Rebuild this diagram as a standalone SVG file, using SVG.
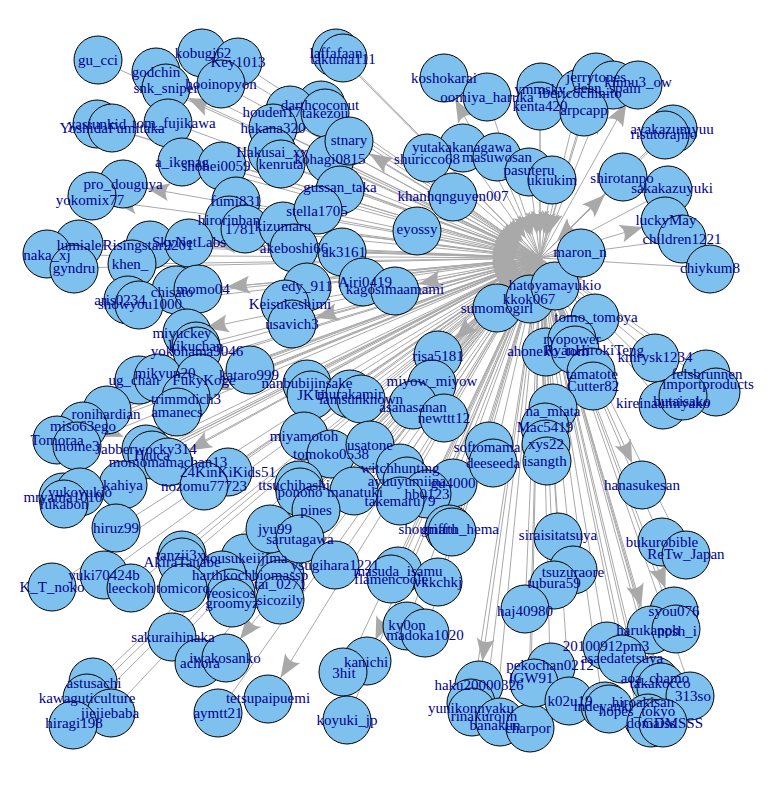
<svg xmlns="http://www.w3.org/2000/svg" width="770" height="785" viewBox="0 0 770 785">
<style>
.e line{stroke:#a9a9a9;stroke-width:1;fill:none}
.i{marker-end:url(#mi)}
.o{marker-end:url(#mo)}
.v{fill:#7ec0ee;stroke:#000;stroke-width:1}
.l{font-family:"Liberation Serif","Times New Roman",serif;font-size:15px;fill:#00008b;text-anchor:middle;dominant-baseline:central}
</style>
<defs>
<marker id="mo" markerUnits="userSpaceOnUse" orient="auto" viewBox="-24 -10 48 20" markerWidth="48" markerHeight="20" refX="24" refY="0" overflow="visible"><path d="M0,0 L-23,-9 Q-16,0 -23,9 Z" fill="#a9a9a9"/></marker>
<marker id="mi" markerUnits="userSpaceOnUse" orient="auto" viewBox="-24 -10 48 20" markerWidth="48" markerHeight="20" refX="24" refY="0" overflow="visible"><path d="M0,0 L-23,-9 Q-16,0 -23,9 Z" fill="#a9a9a9"/></marker>
</defs>
<rect width="770" height="785" fill="#fff"/>
<g id="edges" class="e">
<line class="i" x1="98" y1="60" x2="540" y2="258"/>
<line class="i" x1="156" y1="72" x2="540" y2="258"/>
<line class="i" x1="202" y1="53" x2="540" y2="258"/>
<line class="i" x1="238" y1="62" x2="540" y2="258"/>
<line class="o" x1="540" y1="258" x2="166" y2="88"/>
<line class="i" x1="221" y1="84" x2="540" y2="258"/>
<line class="i" x1="97" y1="124" x2="540" y2="258"/>
<line class="i" x1="112" y1="128" x2="540" y2="258"/>
<line class="i" x1="172" y1="123" x2="540" y2="258"/>
<line class="i" x1="182" y1="162" x2="540" y2="258"/>
<line class="i" x1="218" y1="166" x2="540" y2="258"/>
<line class="o" x1="540" y1="258" x2="123" y2="184"/>
<line class="o" x1="540" y1="258" x2="90" y2="199"/>
<line class="i" x1="336" y1="53" x2="540" y2="258"/>
<line class="i" x1="343" y1="58" x2="540" y2="258"/>
<line class="o" x1="540" y1="258" x2="444" y2="78"/>
<line class="i" x1="487" y1="97" x2="540" y2="258"/>
<line class="i" x1="321" y1="105" x2="540" y2="258"/>
<line class="i" x1="272" y1="112" x2="540" y2="258"/>
<line class="i" x1="325" y1="113" x2="540" y2="258"/>
<line class="i" x1="273" y1="128" x2="540" y2="258"/>
<line class="i" x1="272" y1="152" x2="540" y2="258"/>
<line class="i" x1="281" y1="164" x2="540" y2="258"/>
<line class="i" x1="330" y1="159" x2="540" y2="258"/>
<line class="o" x1="540" y1="258" x2="349" y2="141"/>
<line class="i" x1="340" y1="187" x2="540" y2="258"/>
<line class="i" x1="462" y1="148" x2="540" y2="258"/>
<line class="i" x1="427" y1="159" x2="540" y2="258"/>
<line class="i" x1="497" y1="157" x2="540" y2="258"/>
<line class="i" x1="529" y1="170" x2="540" y2="258"/>
<line class="i" x1="552" y1="180" x2="540" y2="258"/>
<line class="i" x1="540" y1="89" x2="540" y2="258"/>
<line class="i" x1="540" y1="106" x2="540" y2="258"/>
<line class="i" x1="580" y1="93" x2="540" y2="258"/>
<line class="i" x1="596" y1="77" x2="540" y2="258"/>
<line class="o" x1="540" y1="258" x2="607" y2="88"/>
<line class="o" x1="540" y1="258" x2="638" y2="82"/>
<line class="i" x1="584" y1="110" x2="540" y2="258"/>
<line class="i" x1="672" y1="129" x2="540" y2="258"/>
<line class="i" x1="664" y1="134" x2="540" y2="258"/>
<line class="o" x1="540" y1="258" x2="622" y2="178"/>
<line class="i" x1="672" y1="188" x2="540" y2="258"/>
<line class="i" x1="236" y1="201" x2="540" y2="258"/>
<line class="i" x1="229" y1="220" x2="540" y2="258"/>
<line class="i" x1="240" y1="229" x2="540" y2="258"/>
<line class="i" x1="283" y1="226" x2="540" y2="258"/>
<line class="i" x1="317" y1="211" x2="540" y2="258"/>
<line class="i" x1="453" y1="196" x2="540" y2="258"/>
<line class="i" x1="417" y1="229" x2="540" y2="258"/>
<line class="i" x1="294" y1="248" x2="540" y2="258"/>
<line class="i" x1="344" y1="252" x2="540" y2="258"/>
<line class="i" x1="365" y1="282" x2="540" y2="258"/>
<line class="o" x1="540" y1="258" x2="395" y2="289"/>
<line class="i" x1="307" y1="286" x2="540" y2="258"/>
<line class="i" x1="290" y1="304" x2="540" y2="258"/>
<line class="o" x1="540" y1="258" x2="292" y2="324"/>
<line class="i" x1="497" y1="308" x2="540" y2="258"/>
<line class="i" x1="529" y1="299" x2="540" y2="258"/>
<line class="i" x1="555" y1="285" x2="540" y2="258"/>
<line class="o" x1="540" y1="258" x2="438" y2="356"/>
<line class="i" x1="548" y1="351" x2="540" y2="258"/>
<line class="i" x1="432" y1="381" x2="540" y2="258"/>
<line class="i" x1="307" y1="383" x2="540" y2="258"/>
<line class="i" x1="311" y1="395" x2="540" y2="258"/>
<line class="i" x1="350" y1="394" x2="540" y2="258"/>
<line class="i" x1="361" y1="399" x2="540" y2="258"/>
<line class="i" x1="413" y1="407" x2="540" y2="258"/>
<line class="i" x1="444" y1="418" x2="540" y2="258"/>
<line class="i" x1="79" y1="245" x2="540" y2="258"/>
<line class="i" x1="148" y1="245" x2="540" y2="258"/>
<line class="o" x1="540" y1="258" x2="189" y2="242"/>
<line class="i" x1="47" y1="255" x2="540" y2="258"/>
<line class="i" x1="74" y1="268" x2="540" y2="258"/>
<line class="i" x1="130" y1="264" x2="540" y2="258"/>
<line class="i" x1="172" y1="292" x2="540" y2="258"/>
<line class="o" x1="540" y1="258" x2="203" y2="289"/>
<line class="i" x1="120" y1="300" x2="540" y2="258"/>
<line class="i" x1="140" y1="304" x2="540" y2="258"/>
<line class="o" x1="540" y1="258" x2="182" y2="333"/>
<line class="i" x1="196" y1="346" x2="540" y2="258"/>
<line class="i" x1="197" y1="351" x2="540" y2="258"/>
<line class="i" x1="249" y1="375" x2="540" y2="258"/>
<line class="i" x1="134" y1="380" x2="540" y2="258"/>
<line class="i" x1="165" y1="373" x2="540" y2="258"/>
<line class="i" x1="204" y1="380" x2="540" y2="258"/>
<line class="o" x1="540" y1="258" x2="186" y2="399"/>
<line class="i" x1="177" y1="412" x2="540" y2="258"/>
<line class="i" x1="106" y1="414" x2="540" y2="258"/>
<line class="i" x1="83" y1="426" x2="540" y2="258"/>
<line class="i" x1="57" y1="440" x2="540" y2="258"/>
<line class="o" x1="540" y1="258" x2="77" y2="446"/>
<line class="i" x1="146" y1="449" x2="540" y2="258"/>
<line class="i" x1="152" y1="455" x2="540" y2="258"/>
<line class="o" x1="540" y1="258" x2="168" y2="462"/>
<line class="i" x1="228" y1="472" x2="540" y2="258"/>
<line class="i" x1="204" y1="486" x2="540" y2="258"/>
<line class="i" x1="123" y1="485" x2="540" y2="258"/>
<line class="i" x1="63" y1="497" x2="540" y2="258"/>
<line class="i" x1="80" y1="492" x2="540" y2="258"/>
<line class="i" x1="64" y1="504" x2="540" y2="258"/>
<line class="i" x1="116" y1="528" x2="540" y2="258"/>
<line class="i" x1="180" y1="555" x2="540" y2="258"/>
<line class="i" x1="182" y1="562" x2="540" y2="258"/>
<line class="i" x1="245" y1="558" x2="540" y2="258"/>
<line class="i" x1="222" y1="575" x2="540" y2="258"/>
<line class="i" x1="104" y1="575" x2="540" y2="258"/>
<line class="i" x1="131" y1="588" x2="540" y2="258"/>
<line class="i" x1="183" y1="588" x2="540" y2="258"/>
<line class="i" x1="52" y1="587" x2="540" y2="258"/>
<line class="i" x1="280" y1="575" x2="540" y2="258"/>
<line class="i" x1="280" y1="584" x2="540" y2="258"/>
<line class="i" x1="231" y1="593" x2="540" y2="258"/>
<line class="i" x1="280" y1="600" x2="540" y2="258"/>
<line class="i" x1="232" y1="603" x2="540" y2="258"/>
<line class="i" x1="173" y1="637" x2="540" y2="258"/>
<line class="i" x1="200" y1="663" x2="540" y2="258"/>
<line class="o" x1="540" y1="258" x2="225" y2="658"/>
<line class="i" x1="94" y1="683" x2="540" y2="258"/>
<line class="i" x1="87" y1="698" x2="540" y2="258"/>
<line class="i" x1="110" y1="713" x2="540" y2="258"/>
<line class="i" x1="74" y1="723" x2="540" y2="258"/>
<line class="o" x1="540" y1="258" x2="268" y2="698"/>
<line class="i" x1="218" y1="713" x2="540" y2="258"/>
<line class="i" x1="304" y1="436" x2="540" y2="258"/>
<line class="i" x1="331" y1="454" x2="540" y2="258"/>
<line class="i" x1="370" y1="445" x2="540" y2="258"/>
<line class="i" x1="400" y1="468" x2="540" y2="258"/>
<line class="i" x1="407" y1="481" x2="540" y2="258"/>
<line class="i" x1="453" y1="483" x2="540" y2="258"/>
<line class="i" x1="427" y1="494" x2="540" y2="258"/>
<line class="i" x1="400" y1="501" x2="540" y2="258"/>
<line class="i" x1="294" y1="485" x2="540" y2="258"/>
<line class="i" x1="300" y1="492" x2="540" y2="258"/>
<line class="i" x1="355" y1="492" x2="540" y2="258"/>
<line class="i" x1="316" y1="510" x2="540" y2="258"/>
<line class="i" x1="275" y1="529" x2="540" y2="258"/>
<line class="i" x1="300" y1="539" x2="540" y2="258"/>
<line class="i" x1="428" y1="529" x2="540" y2="258"/>
<line class="i" x1="460" y1="529" x2="540" y2="258"/>
<line class="i" x1="335" y1="565" x2="540" y2="258"/>
<line class="i" x1="398" y1="571" x2="540" y2="258"/>
<line class="i" x1="391" y1="579" x2="540" y2="258"/>
<line class="i" x1="438" y1="582" x2="540" y2="258"/>
<line class="i" x1="487" y1="447" x2="540" y2="258"/>
<line class="i" x1="493" y1="463" x2="540" y2="258"/>
<line class="i" x1="580" y1="252" x2="540" y2="258"/>
<line class="o" x1="540" y1="258" x2="666" y2="220"/>
<line class="i" x1="682" y1="239" x2="540" y2="258"/>
<line class="i" x1="710" y1="268" x2="540" y2="258"/>
<line class="i" x1="596" y1="317" x2="540" y2="258"/>
<line class="i" x1="572" y1="339" x2="540" y2="258"/>
<line class="i" x1="594" y1="350" x2="540" y2="258"/>
<line class="i" x1="655" y1="357" x2="540" y2="258"/>
<line class="i" x1="592" y1="374" x2="540" y2="258"/>
<line class="i" x1="593" y1="386" x2="540" y2="258"/>
<line class="i" x1="707" y1="374" x2="540" y2="258"/>
<line class="i" x1="708" y1="384" x2="540" y2="258"/>
<line class="i" x1="663" y1="404" x2="540" y2="258"/>
<line class="i" x1="682" y1="399" x2="540" y2="258"/>
<line class="i" x1="553" y1="411" x2="540" y2="258"/>
<line class="i" x1="545" y1="427" x2="540" y2="258"/>
<line class="i" x1="546" y1="444" x2="540" y2="258"/>
<line class="i" x1="545" y1="461" x2="540" y2="258"/>
<line class="o" x1="540" y1="258" x2="642" y2="485"/>
<line class="i" x1="558" y1="535" x2="540" y2="258"/>
<line class="i" x1="662" y1="542" x2="540" y2="258"/>
<line class="i" x1="686" y1="554" x2="540" y2="258"/>
<line class="i" x1="573" y1="572" x2="540" y2="258"/>
<line class="o" x1="540" y1="258" x2="554" y2="583"/>
<line class="o" x1="540" y1="258" x2="366" y2="662"/>
<line class="i" x1="344" y1="673" x2="540" y2="258"/>
<line class="i" x1="347" y1="720" x2="540" y2="258"/>
<line class="i" x1="407" y1="625" x2="540" y2="258"/>
<line class="i" x1="425" y1="635" x2="540" y2="258"/>
<line class="o" x1="540" y1="258" x2="479" y2="685"/>
<line class="i" x1="471" y1="708" x2="540" y2="258"/>
<line class="i" x1="484" y1="716" x2="540" y2="258"/>
<line class="i" x1="495" y1="725" x2="540" y2="258"/>
<line class="i" x1="528" y1="728" x2="540" y2="258"/>
<line class="i" x1="550" y1="665" x2="540" y2="258"/>
<line class="i" x1="531" y1="678" x2="540" y2="258"/>
<line class="i" x1="525" y1="611" x2="540" y2="258"/>
<line class="o" x1="540" y1="258" x2="674" y2="611"/>
<line class="o" x1="540" y1="258" x2="648" y2="630"/>
<line class="i" x1="677" y1="631" x2="540" y2="258"/>
<line class="i" x1="606" y1="646" x2="540" y2="258"/>
<line class="i" x1="622" y1="658" x2="540" y2="258"/>
<line class="i" x1="655" y1="678" x2="540" y2="258"/>
<line class="i" x1="660" y1="683" x2="540" y2="258"/>
<line class="i" x1="693" y1="696" x2="540" y2="258"/>
<line class="i" x1="570" y1="701" x2="540" y2="258"/>
<line class="i" x1="643" y1="702" x2="540" y2="258"/>
<line class="i" x1="603" y1="706" x2="540" y2="258"/>
<line class="i" x1="637" y1="711" x2="540" y2="258"/>
<line class="i" x1="651" y1="723" x2="540" y2="258"/>
<line class="i" x1="673" y1="723" x2="540" y2="258"/>
</g>
<g id="nodes">
<g id="n-gu_cci"><circle class="v" cx="98" cy="60" r="24"/></g>
<g id="n-godchin"><circle class="v" cx="156" cy="72" r="24"/></g>
<g id="n-kobugi62"><circle class="v" cx="202" cy="53" r="24"/></g>
<g id="n-Key1013"><circle class="v" cx="238" cy="62" r="24"/></g>
<g id="n-snk_sniper"><circle class="v" cx="166" cy="88" r="24"/></g>
<g id="n-hooinopyon"><circle class="v" cx="221" cy="84" r="24"/></g>
<g id="n-yasiunkid"><circle class="v" cx="97" cy="124" r="24"/></g>
<g id="n-YoshidaFumitaka"><circle class="v" cx="112" cy="128" r="24"/></g>
<g id="n-tom_fujikawa"><circle class="v" cx="168" cy="123" r="24"/></g>
<g id="n-a_ikenag"><circle class="v" cx="182" cy="162" r="24"/></g>
<g id="n-shohei0059"><circle class="v" cx="222" cy="166" r="24"/></g>
<g id="n-pro_douguya"><circle class="v" cx="123" cy="184" r="24"/></g>
<g id="n-yokomix77"><circle class="v" cx="92" cy="196" r="24"/></g>
<g id="n-laffafaan"><circle class="v" cx="336" cy="53" r="24"/></g>
<g id="n-takuma111"><circle class="v" cx="343" cy="58" r="24"/></g>
<g id="n-koshokarai"><circle class="v" cx="444" cy="78" r="24"/></g>
<g id="n-oomiya_haruka"><circle class="v" cx="487" cy="97" r="24"/></g>
<g id="n-darthcoconut"><circle class="v" cx="321" cy="105" r="24"/></g>
<g id="n-houden17"><circle class="v" cx="290" cy="110" r="24"/></g>
<g id="n-takezou"><circle class="v" cx="325" cy="113" r="24"/></g>
<g id="n-hakana320"><circle class="v" cx="273" cy="128" r="24"/></g>
<g id="n-Hakusai_xx"><circle class="v" cx="272" cy="152" r="24"/></g>
<g id="n-kenruta"><circle class="v" cx="281" cy="164" r="24"/></g>
<g id="n-kohagi0815"><circle class="v" cx="330" cy="159" r="24"/></g>
<g id="n-stnary"><circle class="v" cx="349" cy="141" r="24"/></g>
<g id="n-gussan_taka"><circle class="v" cx="340" cy="190" r="24"/></g>
<g id="n-yutakakanagawa"><circle class="v" cx="463" cy="148" r="24"/></g>
<g id="n-shuricco68"><circle class="v" cx="427" cy="158" r="24"/></g>
<g id="n-masuwosan"><circle class="v" cx="497" cy="157" r="24"/></g>
<g id="n-pasuteru"><circle class="v" cx="529" cy="172" r="24"/></g>
<g id="n-ukiukim"><circle class="v" cx="552" cy="180" r="24"/></g>
<g id="n-ymmsky"><circle class="v" cx="541" cy="87" r="24"/></g>
<g id="n-kenta420"><circle class="v" cx="540" cy="106" r="24"/></g>
<g id="n-ibericochinito"><circle class="v" cx="580" cy="93" r="24"/></g>
<g id="n-jerrytones"><circle class="v" cx="596" cy="77" r="24"/></g>
<g id="n-dean_spain"><circle class="v" cx="613" cy="85" r="24"/></g>
<g id="n-kinnu3_ow"><circle class="v" cx="638" cy="85" r="24"/></g>
<g id="n-arpcapp"><circle class="v" cx="584" cy="112" r="24"/></g>
<g id="n-ayakazumyuu"><circle class="v" cx="673" cy="129" r="24"/></g>
<g id="n-risutorajiro"><circle class="v" cx="665" cy="135" r="24"/></g>
<g id="n-shirotanpo"><circle class="v" cx="623" cy="177" r="24"/></g>
<g id="n-sakakazuyuki"><circle class="v" cx="668" cy="190" r="24"/></g>
<g id="n-fumi831"><circle class="v" cx="236" cy="201" r="24"/></g>
<g id="n-hirorinban"><circle class="v" cx="229" cy="220" r="24"/></g>
<g id="n-1781"><circle class="v" cx="245" cy="229" r="24"/></g>
<g id="n-kizumaru"><circle class="v" cx="283" cy="226" r="24"/></g>
<g id="n-stella1705"><circle class="v" cx="318" cy="210" r="24"/></g>
<g id="n-khanhqnguyen007"><circle class="v" cx="453" cy="197" r="24"/></g>
<g id="n-eyossy"><circle class="v" cx="417" cy="231" r="24"/></g>
<g id="n-akeboshi66"><circle class="v" cx="294" cy="248" r="24"/></g>
<g id="n-ak3161"><circle class="v" cx="342" cy="252" r="24"/></g>
<g id="n-Airi0419"><circle class="v" cx="363" cy="282" r="24"/></g>
<g id="n-kagosimaamami"><circle class="v" cx="395" cy="291" r="24"/></g>
<g id="n-edy_911"><circle class="v" cx="307" cy="287" r="24"/></g>
<g id="n-Keisukeshimi"><circle class="v" cx="285" cy="304" r="24"/></g>
<g id="n-usavich3"><circle class="v" cx="292" cy="324" r="24"/></g>
<g id="n-sumomogirl"><circle class="v" cx="497" cy="308" r="24"/></g>
<g id="n-kkok067"><circle class="v" cx="530" cy="299" r="24"/></g>
<g id="n-hatoyamayukio"><circle class="v" cx="555" cy="286" r="24"/></g>
<g id="n-risa5181"><circle class="v" cx="438" cy="355" r="24"/></g>
<g id="n-ahoneko_tom"><circle class="v" cx="546" cy="352" r="24"/></g>
<g id="n-miyow_miyow"><circle class="v" cx="432" cy="384" r="24"/></g>
<g id="n-nanbubijinsake"><circle class="v" cx="307" cy="384" r="24"/></g>
<g id="n-JKU"><circle class="v" cx="311" cy="395" r="24"/></g>
<g id="n-murakamir"><circle class="v" cx="350" cy="394" r="24"/></g>
<g id="n-iamsunknown"><circle class="v" cx="361" cy="399" r="24"/></g>
<g id="n-asanasanan"><circle class="v" cx="413" cy="405" r="24"/></g>
<g id="n-newttt12"><circle class="v" cx="444" cy="418" r="24"/></g>
<g id="n-lumiale"><circle class="v" cx="79" cy="244" r="24"/></g>
<g id="n-Risingstar9201"><circle class="v" cx="150" cy="245" r="24"/></g>
<g id="n-SkyNetLabs"><circle class="v" cx="189" cy="243" r="24"/></g>
<g id="n-naka_xj"><circle class="v" cx="47" cy="254" r="24"/></g>
<g id="n-gyndru"><circle class="v" cx="74" cy="269" r="24"/></g>
<g id="n-khen_"><circle class="v" cx="132" cy="264" r="24"/></g>
<g id="n-chisato"><circle class="v" cx="176" cy="290" r="24"/></g>
<g id="n-momo04"><circle class="v" cx="198" cy="289" r="24"/></g>
<g id="n-aris0234"><circle class="v" cx="128" cy="300" r="24"/></g>
<g id="n-showyou1000"><circle class="v" cx="139" cy="305" r="24"/></g>
<g id="n-miyuckey"><circle class="v" cx="187" cy="333" r="24"/></g>
<g id="n-kikuchan"><circle class="v" cx="196" cy="346" r="24"/></g>
<g id="n-yokohama9046"><circle class="v" cx="197" cy="351" r="24"/></g>
<g id="n-kataro999"><circle class="v" cx="250" cy="370" r="24"/></g>
<g id="n-ug_chan"><circle class="v" cx="139" cy="380" r="24"/></g>
<g id="n-mikyun20"><circle class="v" cx="158" cy="378" r="24"/></g>
<g id="n-FukyKoge"><circle class="v" cx="200" cy="378" r="24"/></g>
<g id="n-trimmdich3"><circle class="v" cx="186" cy="397" r="24"/></g>
<g id="n-amanecs"><circle class="v" cx="177" cy="412" r="24"/></g>
<g id="n-ronihardian"><circle class="v" cx="107" cy="410" r="24"/></g>
<g id="n-miso63ego"><circle class="v" cx="83" cy="426" r="24"/></g>
<g id="n-Tomoraa"><circle class="v" cx="57" cy="440" r="24"/></g>
<g id="n-mome3"><circle class="v" cx="77" cy="446" r="24"/></g>
<g id="n-Jabberwocky314"><circle class="v" cx="146" cy="449" r="24"/></g>
<g id="n-Hiuca"><circle class="v" cx="152" cy="455" r="24"/></g>
<g id="n-momomamachan13"><circle class="v" cx="168" cy="462" r="24"/></g>
<g id="n-24KinKiKids51"><circle class="v" cx="228" cy="472" r="24"/></g>
<g id="n-nozomu77723"><circle class="v" cx="204" cy="486" r="24"/></g>
<g id="n-kahiya"><circle class="v" cx="123" cy="485" r="24"/></g>
<g id="n-mryama1010"><circle class="v" cx="63" cy="497" r="24"/></g>
<g id="n-yukoyukio"><circle class="v" cx="80" cy="492" r="24"/></g>
<g id="n-fukabon"><circle class="v" cx="64" cy="504" r="24"/></g>
<g id="n-hiruz99"><circle class="v" cx="116" cy="528" r="24"/></g>
<g id="n-tanzii3x"><circle class="v" cx="182" cy="555" r="24"/></g>
<g id="n-AkiraTanabe"><circle class="v" cx="182" cy="562" r="24"/></g>
<g id="n-kousukeiijima"><circle class="v" cx="245" cy="558" r="24"/></g>
<g id="n-harthkoch"><circle class="v" cx="222" cy="575" r="24"/></g>
<g id="n-yuki70424b"><circle class="v" cx="104" cy="575" r="24"/></g>
<g id="n-leeckoh"><circle class="v" cx="131" cy="588" r="24"/></g>
<g id="n-tomicoro"><circle class="v" cx="183" cy="588" r="24"/></g>
<g id="n-K_T_noko"><circle class="v" cx="52" cy="587" r="24"/></g>
<g id="n-biomassp"><circle class="v" cx="280" cy="575" r="24"/></g>
<g id="n-tai_0271"><circle class="v" cx="280" cy="584" r="24"/></g>
<g id="n-reosicos"><circle class="v" cx="231" cy="593" r="24"/></g>
<g id="n-sicozily"><circle class="v" cx="280" cy="600" r="24"/></g>
<g id="n-groomyz"><circle class="v" cx="232" cy="603" r="24"/></g>
<g id="n-sakuraihinaka"><circle class="v" cx="172" cy="637" r="24"/></g>
<g id="n-achora"><circle class="v" cx="199" cy="663" r="24"/></g>
<g id="n-iwakosanko"><circle class="v" cx="226" cy="658" r="24"/></g>
<g id="n-astusachi"><circle class="v" cx="93" cy="682" r="24"/></g>
<g id="n-kawaguticulture"><circle class="v" cx="87" cy="698" r="24"/></g>
<g id="n-jiejiebaba"><circle class="v" cx="111" cy="713" r="24"/></g>
<g id="n-hiragi198"><circle class="v" cx="73" cy="725" r="24"/></g>
<g id="n-tetsupaipuemi"><circle class="v" cx="268" cy="699" r="24"/></g>
<g id="n-aymtt21"><circle class="v" cx="218" cy="713" r="24"/></g>
<g id="n-miyamotoh"><circle class="v" cx="304" cy="436" r="24"/></g>
<g id="n-tomoko0538"><circle class="v" cx="331" cy="454" r="24"/></g>
<g id="n-usatone"><circle class="v" cx="370" cy="445" r="24"/></g>
<g id="n-witchhunting"><circle class="v" cx="400" cy="468" r="24"/></g>
<g id="n-ayuuyumiina"><circle class="v" cx="407" cy="481" r="24"/></g>
<g id="n-gu4000"><circle class="v" cx="453" cy="483" r="24"/></g>
<g id="n-hb0123"><circle class="v" cx="427" cy="494" r="24"/></g>
<g id="n-takemaru79"><circle class="v" cx="400" cy="501" r="24"/></g>
<g id="n-ttsuchihashi"><circle class="v" cx="299" cy="485" r="24"/></g>
<g id="n-ponono"><circle class="v" cx="300" cy="492" r="24"/></g>
<g id="n-manatuki"><circle class="v" cx="354" cy="491" r="24"/></g>
<g id="n-pines"><circle class="v" cx="316" cy="510" r="24"/></g>
<g id="n-jyu99"><circle class="v" cx="270" cy="529" r="24"/></g>
<g id="n-sarutagawa"><circle class="v" cx="300" cy="539" r="24"/></g>
<g id="n-shoumaru"><circle class="v" cx="449" cy="529" r="24"/></g>
<g id="n-griffth_hema"><circle class="v" cx="452" cy="532" r="24"/></g>
<g id="n-ysugihara1221"><circle class="v" cx="335" cy="565" r="24"/></g>
<g id="n-masuda_isamu"><circle class="v" cx="398" cy="571" r="24"/></g>
<g id="n-flamencoole"><circle class="v" cx="391" cy="579" r="24"/></g>
<g id="n-vkkchkj"><circle class="v" cx="438" cy="582" r="24"/></g>
<g id="n-softomama"><circle class="v" cx="489" cy="446" r="24"/></g>
<g id="n-deeseeda"><circle class="v" cx="493" cy="463" r="24"/></g>
<g id="n-maron_n"><circle class="v" cx="581" cy="253" r="24"/></g>
<g id="n-luckyMay"><circle class="v" cx="665" cy="221" r="24"/></g>
<g id="n-children1221"><circle class="v" cx="682" cy="239" r="24"/></g>
<g id="n-chiykum8"><circle class="v" cx="710" cy="269" r="24"/></g>
<g id="n-tomo_tomoya"><circle class="v" cx="595" cy="318" r="24"/></g>
<g id="n-ryopower"><circle class="v" cx="572" cy="340" r="24"/></g>
<g id="n-RyanHirokiTeng"><circle class="v" cx="575" cy="350" r="24"/></g>
<g id="n-kmrysk1234"><circle class="v" cx="655" cy="358" r="24"/></g>
<g id="n-tamatote"><circle class="v" cx="591" cy="372" r="24"/></g>
<g id="n-Cutter82"><circle class="v" cx="593" cy="386" r="24"/></g>
<g id="n-felsbrunnen"><circle class="v" cx="706" cy="374" r="24"/></g>
<g id="n-importproducts"><circle class="v" cx="716" cy="392" r="24"/></g>
<g id="n-kireinaumiyako"><circle class="v" cx="663" cy="405" r="24"/></g>
<g id="n-butaisako"><circle class="v" cx="683" cy="396" r="24"/></g>
<g id="n-na_miata"><circle class="v" cx="553" cy="408" r="24"/></g>
<g id="n-Mac5419"><circle class="v" cx="545" cy="427" r="24"/></g>
<g id="n-xys22"><circle class="v" cx="546" cy="444" r="24"/></g>
<g id="n-isangth"><circle class="v" cx="547" cy="461" r="24"/></g>
<g id="n-hanasukesan"><circle class="v" cx="642" cy="485" r="24"/></g>
<g id="n-siraisitatsuya"><circle class="v" cx="558" cy="537" r="24"/></g>
<g id="n-bukurobible"><circle class="v" cx="662" cy="542" r="24"/></g>
<g id="n-ReTw_Japan"><circle class="v" cx="686" cy="555" r="24"/></g>
<g id="n-tsuzuraore"><circle class="v" cx="573" cy="570" r="24"/></g>
<g id="n-tubura59"><circle class="v" cx="554" cy="585" r="24"/></g>
<g id="n-kanichi"><circle class="v" cx="367" cy="661" r="24"/></g>
<g id="n-3hit"><circle class="v" cx="343" cy="672" r="24"/></g>
<g id="n-koyuki_jp"><circle class="v" cx="347" cy="720" r="24"/></g>
<g id="n-ky0on"><circle class="v" cx="407" cy="626" r="24"/></g>
<g id="n-madoka1020"><circle class="v" cx="425" cy="633" r="24"/></g>
<g id="n-haku20000326"><circle class="v" cx="479" cy="685" r="24"/></g>
<g id="n-yunikonnyaku"><circle class="v" cx="471" cy="703" r="24"/></g>
<g id="n-rinakurojin"><circle class="v" cx="472" cy="712" r="24"/></g>
<g id="n-banakun"><circle class="v" cx="500" cy="722" r="24"/></g>
<g id="n-charpor"><circle class="v" cx="530" cy="728" r="24"/></g>
<g id="n-pekochan0212"><circle class="v" cx="551" cy="667" r="24"/></g>
<g id="n-IGW91"><circle class="v" cx="534" cy="683" r="24"/></g>
<g id="n-haj40980"><circle class="v" cx="525" cy="609" r="24"/></g>
<g id="n-syou076"><circle class="v" cx="674" cy="611" r="24"/></g>
<g id="n-harukapph"><circle class="v" cx="651" cy="630" r="24"/></g>
<g id="n-nosh_i"><circle class="v" cx="676" cy="629" r="24"/></g>
<g id="n-20100912pm3"><circle class="v" cx="607" cy="646" r="24"/></g>
<g id="n-asaedatetsuya"><circle class="v" cx="622" cy="659" r="24"/></g>
<g id="n-aoa_chamo"><circle class="v" cx="655" cy="681" r="24"/></g>
<g id="n-takakocco"><circle class="v" cx="661" cy="687" r="24"/></g>
<g id="n-313so"><circle class="v" cx="690" cy="696" r="24"/></g>
<g id="n-k02u19"><circle class="v" cx="569" cy="701" r="24"/></g>
<g id="n-hiroakisan"><circle class="v" cx="648" cy="718" r="24"/></g>
<g id="n-indeyanki"><circle class="v" cx="605" cy="706" r="24"/></g>
<g id="n-hopes_tokyo"><circle class="v" cx="609" cy="709" r="24"/></g>
<g id="n-domaiss"><circle class="v" cx="651" cy="723" r="24"/></g>
<g id="n-GDMSSS"><circle class="v" cx="663" cy="723" r="24"/></g>
</g>
<g id="labels" class="l">
<text class="l" x="98" y="60">gu_cci</text>
<text class="l" x="156" y="72">godchin</text>
<text class="l" x="203" y="53">kobugi62</text>
<text class="l" x="238" y="62">Key1013</text>
<text class="l" x="166" y="88">snk_sniper</text>
<text class="l" x="221" y="84">hooinopyon</text>
<text class="l" x="97" y="124">yasiunkid</text>
<text class="l" x="112" y="128">YoshidaFumitaka</text>
<text class="l" x="174" y="123">tom_fujikawa</text>
<text class="l" x="182" y="162">a_ikenag</text>
<text class="l" x="216" y="166">shohei0059</text>
<text class="l" x="123" y="184">pro_douguya</text>
<text class="l" x="90" y="200">yokomix77</text>
<text class="l" x="336" y="53">laffafaan</text>
<text class="l" x="343" y="59">takuma111</text>
<text class="l" x="444" y="78">koshokarai</text>
<text class="l" x="487" y="97">oomiya_haruka</text>
<text class="l" x="320" y="105">darthcoconut</text>
<text class="l" x="272" y="112">houden17</text>
<text class="l" x="325" y="113">takezou</text>
<text class="l" x="273" y="128">hakana320</text>
<text class="l" x="272" y="152">Hakusai_xx</text>
<text class="l" x="281" y="164">kenruta</text>
<text class="l" x="330" y="159">kohagi0815</text>
<text class="l" x="349" y="140">stnary</text>
<text class="l" x="340" y="187">gussan_taka</text>
<text class="l" x="462" y="147">yutakakanagawa</text>
<text class="l" x="427" y="159">shuricco68</text>
<text class="l" x="497" y="157">masuwosan</text>
<text class="l" x="529" y="170">pasuteru</text>
<text class="l" x="552" y="180">ukiukim</text>
<text class="l" x="540" y="89">ymmsky</text>
<text class="l" x="540" y="106">kenta420</text>
<text class="l" x="580" y="93">ibericochinito</text>
<text class="l" x="596" y="77">jerrytones</text>
<text class="l" x="607" y="88">dean_spain</text>
<text class="l" x="638" y="82">kinnu3_ow</text>
<text class="l" x="584" y="110">arpcapp</text>
<text class="l" x="672" y="129">ayakazumyuu</text>
<text class="l" x="664" y="134">risutorajiro</text>
<text class="l" x="622" y="178">shirotanpo</text>
<text class="l" x="672" y="188">sakakazuyuki</text>
<text class="l" x="236" y="201">fumi831</text>
<text class="l" x="229" y="220">hirorinban</text>
<text class="l" x="240" y="229">1781</text>
<text class="l" x="283" y="226">kizumaru</text>
<text class="l" x="317" y="211">stella1705</text>
<text class="l" x="453" y="196">khanhqnguyen007</text>
<text class="l" x="417" y="229">eyossy</text>
<text class="l" x="294" y="248">akeboshi66</text>
<text class="l" x="344" y="252">ak3161</text>
<text class="l" x="365" y="282">Airi0419</text>
<text class="l" x="395" y="289">kagosimaamami</text>
<text class="l" x="307" y="286">edy_911</text>
<text class="l" x="290" y="304">Keisukeshimi</text>
<text class="l" x="292" y="324">usavich3</text>
<text class="l" x="497" y="308">sumomogirl</text>
<text class="l" x="529" y="299">kkok067</text>
<text class="l" x="555" y="285">hatoyamayukio</text>
<text class="l" x="438" y="356">risa5181</text>
<text class="l" x="548" y="351">ahoneko_tom</text>
<text class="l" x="432" y="381">miyow_miyow</text>
<text class="l" x="307" y="383">nanbubijinsake</text>
<text class="l" x="311" y="395">JKU</text>
<text class="l" x="350" y="394">murakamir</text>
<text class="l" x="361" y="399">iamsunknown</text>
<text class="l" x="413" y="407">asanasanan</text>
<text class="l" x="444" y="418">newttt12</text>
<text class="l" x="79" y="245">lumiale</text>
<text class="l" x="148" y="245">Risingstar9201</text>
<text class="l" x="189" y="242">SkyNetLabs</text>
<text class="l" x="47" y="255">naka_xj</text>
<text class="l" x="74" y="268">gyndru</text>
<text class="l" x="130" y="264">khen_</text>
<text class="l" x="172" y="292">chisato</text>
<text class="l" x="203" y="289">momo04</text>
<text class="l" x="120" y="300">aris0234</text>
<text class="l" x="140" y="304">showyou1000</text>
<text class="l" x="182" y="333">miyuckey</text>
<text class="l" x="196" y="346">kikuchan</text>
<text class="l" x="197" y="351">yokohama9046</text>
<text class="l" x="249" y="375">kataro999</text>
<text class="l" x="134" y="380">ug_chan</text>
<text class="l" x="165" y="373">mikyun20</text>
<text class="l" x="204" y="380">FukyKoge</text>
<text class="l" x="186" y="399">trimmdich3</text>
<text class="l" x="177" y="412">amanecs</text>
<text class="l" x="106" y="414">ronihardian</text>
<text class="l" x="83" y="426">miso63ego</text>
<text class="l" x="57" y="440">Tomoraa</text>
<text class="l" x="77" y="446">mome3</text>
<text class="l" x="146" y="449">Jabberwocky314</text>
<text class="l" x="152" y="455">Hiuca</text>
<text class="l" x="168" y="462">momomamachan13</text>
<text class="l" x="228" y="472">24KinKiKids51</text>
<text class="l" x="204" y="486">nozomu77723</text>
<text class="l" x="123" y="485">kahiya</text>
<text class="l" x="63" y="497">mryama1010</text>
<text class="l" x="80" y="492">yukoyukio</text>
<text class="l" x="64" y="504">fukabon</text>
<text class="l" x="116" y="528">hiruz99</text>
<text class="l" x="180" y="555">tanzii3x</text>
<text class="l" x="182" y="562">AkiraTanabe</text>
<text class="l" x="245" y="558">kousukeiijima</text>
<text class="l" x="222" y="575">harthkoch</text>
<text class="l" x="104" y="575">yuki70424b</text>
<text class="l" x="131" y="588">leeckoh</text>
<text class="l" x="183" y="588">tomicoro</text>
<text class="l" x="52" y="587">K_T_noko</text>
<text class="l" x="280" y="575">biomassp</text>
<text class="l" x="280" y="584">tai_0271</text>
<text class="l" x="231" y="593">reosicos</text>
<text class="l" x="280" y="600">sicozily</text>
<text class="l" x="232" y="603">groomyz</text>
<text class="l" x="173" y="637">sakuraihinaka</text>
<text class="l" x="200" y="663">achora</text>
<text class="l" x="225" y="658">iwakosanko</text>
<text class="l" x="94" y="683">astusachi</text>
<text class="l" x="87" y="698">kawaguticulture</text>
<text class="l" x="110" y="713">jiejiebaba</text>
<text class="l" x="74" y="723">hiragi198</text>
<text class="l" x="268" y="698">tetsupaipuemi</text>
<text class="l" x="218" y="713">aymtt21</text>
<text class="l" x="304" y="436">miyamotoh</text>
<text class="l" x="331" y="454">tomoko0538</text>
<text class="l" x="370" y="445">usatone</text>
<text class="l" x="400" y="468">witchhunting</text>
<text class="l" x="407" y="481">ayuuyumiina</text>
<text class="l" x="453" y="483">gu4000</text>
<text class="l" x="427" y="494">hb0123</text>
<text class="l" x="400" y="501">takemaru79</text>
<text class="l" x="294" y="485">ttsuchihashi</text>
<text class="l" x="300" y="492">ponono</text>
<text class="l" x="355" y="492">manatuki</text>
<text class="l" x="316" y="510">pines</text>
<text class="l" x="275" y="529">jyu99</text>
<text class="l" x="300" y="539">sarutagawa</text>
<text class="l" x="428" y="529">shoumaru</text>
<text class="l" x="460" y="529">griffth_hema</text>
<text class="l" x="335" y="565">ysugihara1221</text>
<text class="l" x="398" y="571">masuda_isamu</text>
<text class="l" x="391" y="579">flamencoole</text>
<text class="l" x="438" y="582">vkkchkj</text>
<text class="l" x="487" y="447">softomama</text>
<text class="l" x="493" y="463">deeseeda</text>
<text class="l" x="580" y="252">maron_n</text>
<text class="l" x="666" y="220">luckyMay</text>
<text class="l" x="682" y="239">children1221</text>
<text class="l" x="710" y="268">chiykum8</text>
<text class="l" x="596" y="317">tomo_tomoya</text>
<text class="l" x="572" y="339">ryopower</text>
<text class="l" x="594" y="350">RyanHirokiTeng</text>
<text class="l" x="655" y="357">kmrysk1234</text>
<text class="l" x="592" y="374">tamatote</text>
<text class="l" x="593" y="386">Cutter82</text>
<text class="l" x="707" y="374">felsbrunnen</text>
<text class="l" x="708" y="384">importproducts</text>
<text class="l" x="663" y="403">kireinaumiyako</text>
<text class="l" x="682" y="401">butaisako</text>
<text class="l" x="553" y="411">na_miata</text>
<text class="l" x="545" y="427">Mac5419</text>
<text class="l" x="546" y="444">xys22</text>
<text class="l" x="545" y="461">isangth</text>
<text class="l" x="642" y="485">hanasukesan</text>
<text class="l" x="558" y="535">siraisitatsuya</text>
<text class="l" x="662" y="542">bukurobible</text>
<text class="l" x="686" y="554">ReTw_Japan</text>
<text class="l" x="573" y="572">tsuzuraore</text>
<text class="l" x="554" y="583">tubura59</text>
<text class="l" x="366" y="662">kanichi</text>
<text class="l" x="344" y="673">3hit</text>
<text class="l" x="347" y="720">koyuki_jp</text>
<text class="l" x="407" y="625">ky0on</text>
<text class="l" x="425" y="635">madoka1020</text>
<text class="l" x="479" y="685">haku20000326</text>
<text class="l" x="471" y="708">yunikonnyaku</text>
<text class="l" x="484" y="716">rinakurojin</text>
<text class="l" x="495" y="725">banakun</text>
<text class="l" x="528" y="728">charpor</text>
<text class="l" x="550" y="665">pekochan0212</text>
<text class="l" x="531" y="678">IGW91</text>
<text class="l" x="525" y="611">haj40980</text>
<text class="l" x="674" y="611">syou076</text>
<text class="l" x="648" y="630">harukapph</text>
<text class="l" x="677" y="631">nosh_i</text>
<text class="l" x="606" y="646">20100912pm3</text>
<text class="l" x="622" y="658">asaedatetsuya</text>
<text class="l" x="655" y="678">aoa_chamo</text>
<text class="l" x="660" y="683">takakocco</text>
<text class="l" x="693" y="696">313so</text>
<text class="l" x="570" y="701">k02u19</text>
<text class="l" x="643" y="702">hiroakisan</text>
<text class="l" x="603" y="706">indeyanki</text>
<text class="l" x="637" y="711">hopes_tokyo</text>
<text class="l" x="651" y="723">domaiss</text>
<text class="l" x="673" y="723">GDMSSS</text>
</g>
</svg>
